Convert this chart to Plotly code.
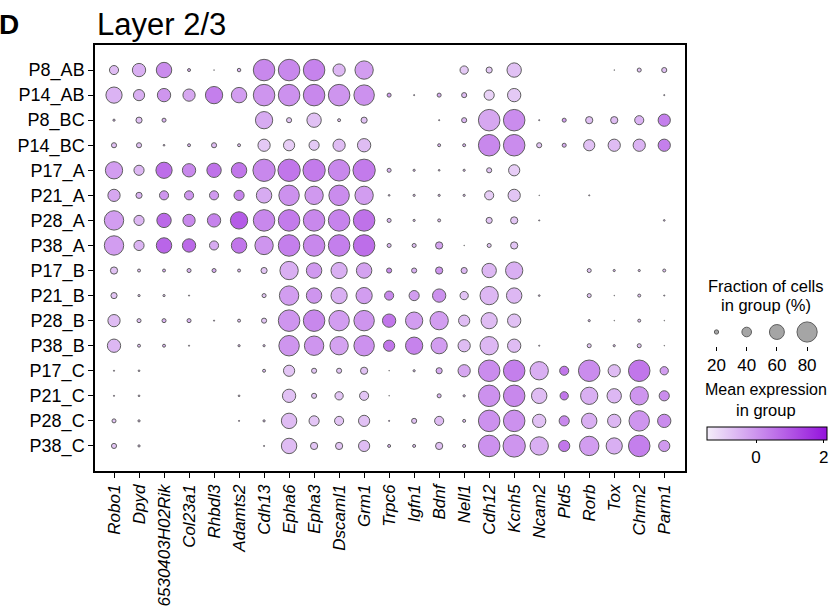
import plotly.graph_objects as go

genes = ["Robo1", "Dpyd", "6530403H02Rik", "Col23a1", "Rhbdl3", "Adamts2", "Cdh13",
         "Epha6", "Epha3", "Dscaml1", "Grm1", "Trpc6", "Igfn1", "Bdnf", "Nell1",
         "Cdh12", "Kcnh5", "Ncam2", "Pld5", "Rorb", "Tox", "Chrm2", "Parm1"]

groups = ["P8_AB", "P14_AB", "P8_BC", "P14_BC", "P17_A", "P21_A", "P28_A", "P38_A",
          "P17_B", "P21_B", "P28_B", "P38_B", "P17_C", "P21_C", "P28_C", "P38_C"]

N = None
# Fraction of cells in group (%), one row per group, columns follow `genes`
fraction_pct = [
    [38, 54, 62, 15, 6, 17, 85, 85, 85, 50, 73, N, N, N, 35, 27, 58, N, N, N, 6, 19, 23],   # P8_AB
    [65, 46, 54, 50, 69, 62, 85, 85, 85, 85, 81, 19, 8, 19, 23, 42, 54, N, N, N, N, N, 8],  # P14_AB
    [12, 27, 19, N, N, N, 69, 23, 58, 15, 27, N, N, 8, 23, 85, 85, 8, 19, 31, 31, 38, 50],  # P8_BC
    [23, 23, 10, 15, 23, 15, 50, 46, 42, 50, 54, N, N, 15, 15, 85, 85, 23, 19, 46, 50, 50, 50],  # P14_BC
    [69, 42, 65, 54, 58, 62, 88, 88, 88, 85, 88, 19, 12, 10, 12, 23, 46, N, N, N, N, N, N],  # P17_A
    [50, 27, 38, 38, 38, 42, 62, 81, 73, 81, 73, 10, 12, 12, 12, 38, 50, 6, N, 8, N, N, N],  # P21_A
    [77, 42, 58, 50, 54, 69, 85, 85, 85, 85, 85, 19, 12, 15, N, 27, 31, 8, N, N, N, N, 10],  # P28_A
    [77, 42, 62, 54, 38, 62, 73, 85, 85, 85, 85, 19, 19, 31, 4, 19, 31, N, N, N, N, N, N],  # P38_A
    [31, 15, 15, 19, 19, 15, 27, 73, 62, 65, 62, 23, 23, 31, 27, 58, 69, N, N, 19, 12, 12, 15],  # P17_B
    [27, 12, 12, 8, N, N, 19, 77, 62, 65, 65, 38, 42, 54, 35, 73, 62, 10, N, 19, 6, 15, 8],  # P21_B
    [50, 19, 19, 19, 8, 15, 23, 85, 85, 81, 81, 54, 69, 73, 46, 65, 54, N, N, 12, 4, 15, 4],  # P28_B
    [54, 15, 15, 8, N, 12, 12, 81, 77, 73, 81, 46, 69, 65, 50, 73, 54, 8, N, 19, 12, 19, 4],  # P38_B
    [8, 10, N, N, N, N, 15, 46, 23, 23, 31, 4, 12, 27, 50, 85, 85, 73, 38, 85, 50, 85, 35],  # P17_C
    [8, 10, N, N, N, 10, N, 54, 23, 35, 38, 4, N, 19, 12, 85, 85, 62, 35, 69, 58, 73, 42],  # P21_C
    [19, 12, N, N, N, 8, 12, 62, 42, 38, 46, 8, 23, 38, 15, 85, 85, 54, 42, 62, 54, 81, 54],  # P28_C
    [23, 12, N, N, N, N, 8, 62, 31, 31, 46, 15, 15, 31, 15, 85, 88, 73, 46, 77, 65, 85, 46],  # P38_C
]

# Mean expression in group (scaled), same layout
mean_expression = [
    [-0.2, 0.1, 0.9, 0.2, -0.8, 0.0, 1.0, 1.0, 1.1, -0.1, 0.5, N, N, N, -0.5, -0.5, -0.3, N, N, N, -0.8, -0.3, -0.3],
    [0.0, 0.1, 0.7, 0.3, 1.2, 0.5, 0.7, 0.8, 1.0, 0.7, 0.8, 0.5, 0.0, 0.2, -0.2, -0.7, -0.5, N, N, N, N, N, 0.0],
    [0.3, -0.3, 0.0, N, N, N, 0.2, -0.4, -0.3, -0.3, -0.3, N, N, 0.0, -0.1, 0.3, 0.9, 0.0, 0.5, -0.3, -0.2, 0.0, 1.2],
    [-0.3, -0.3, 0.5, 0.0, -0.2, -0.2, -0.5, -0.6, -0.5, -0.2, -0.2, N, N, 0.0, 0.0, 1.0, 0.9, -0.4, 0.2, -0.3, -0.2, 0.0, 1.2],
    [0.5, -0.1, 1.6, 1.0, 1.5, 1.4, 1.0, 1.4, 1.3, 1.0, 1.3, 0.0, 0.0, 0.3, 0.0, -0.4, -0.6, N, N, N, N, N, N],
    [0.3, 0.0, 0.7, 0.7, 0.6, 1.1, 0.2, 0.8, 0.6, 0.9, 0.5, 0.0, 0.0, 0.0, 0.0, -0.6, -0.4, -0.5, N, 0.0, N, N, N],
    [0.5, -0.1, 1.7, 1.0, 1.1, 2.0, 1.0, 1.3, 1.0, 1.1, 1.5, -0.1, -0.2, -0.2, N, -0.4, -0.4, 0.0, N, N, N, N, 0.0],
    [0.5, 0.0, 1.8, 1.7, 0.2, 1.4, 0.7, 1.2, 1.0, 1.2, 1.6, -0.1, -0.2, 0.4, -0.8, -0.4, -0.4, N, N, N, N, N, N],
    [-0.3, -0.2, 0.2, 0.0, 0.2, 0.0, -0.4, 0.1, 0.6, 0.1, 0.4, 0.9, 0.1, 0.7, -0.1, -0.1, 0.1, N, N, -0.4, 0.0, 0.0, -0.3],
    [-0.4, -0.2, -0.2, 0.0, N, N, -0.4, 0.5, 0.7, 0.1, 0.5, 1.0, 0.5, 0.8, -0.3, -0.1, -0.1, 0.0, N, -0.4, 0.0, -0.3, 0.0],
    [-0.2, -0.3, 0.0, 0.0, 0.0, -0.3, -0.4, 0.7, 1.0, 0.5, 0.7, 1.4, 0.5, 0.5, -0.2, -0.2, -0.3, N, N, 0.0, -0.8, -0.3, -0.8],
    [-0.1, -0.2, 0.0, 0.0, N, 0.0, 0.0, 0.7, 0.7, 0.4, 0.8, 1.4, 1.1, 0.5, -0.2, -0.1, -0.2, 0.0, N, -0.4, 0.0, -0.3, -0.8],
    [0.0, 0.0, N, N, N, N, -0.2, -0.4, -0.4, -0.4, -0.3, -0.8, 0.0, 0.2, 0.3, 0.9, 1.2, 0.1, 1.4, 0.9, -0.2, 1.4, 0.5],
    [0.0, 0.0, N, N, N, 0.0, N, -0.3, -0.4, -0.4, -0.4, -0.8, N, 0.0, 0.0, 0.8, 1.0, -0.2, 1.4, 0.1, -0.1, 0.7, 0.9],
    [-0.4, -0.2, N, N, N, 0.0, 0.0, -0.2, -0.4, -0.4, -0.3, 0.5, -0.3, -0.2, -0.2, 0.8, 0.8, -0.3, 1.0, 0.1, -0.1, 0.7, 0.9],
    [-0.4, -0.2, N, N, N, N, 0.0, -0.2, -0.4, -0.4, -0.2, 0.0, -0.2, -0.3, -0.2, 0.8, 0.7, 0.1, 1.4, 0.5, 0.1, 1.2, 0.6],
]

legend_fractions = [20, 40, 60, 80]
colorbar_ticks = [0, 2]
expr_min, expr_max = -1.45, 2.1

FONT = "Liberation Sans, Arial, sans-serif"
W, H = 829, 613
L, T, B = 95, 45, 142
PAPER_W = W - L
PAPER_H = H - T - B
PLOT_W = 590


def px_x(px):
    return (px - L) / PAPER_W


def px_y(py):
    return (H - B - py) / PAPER_H


def dot_size(f):
    return max(0.265 * f - 1.0, 0.6)


xs, ys, sizes, colors, texts = [], [], [], [], []
for gi, g in enumerate(groups):
    for ji, gene in enumerate(genes):
        f = fraction_pct[gi][ji]
        if f is None:
            continue
        xs.append(ji)
        ys.append(gi)
        sizes.append(dot_size(f))
        colors.append(mean_expression[gi][ji])
        texts.append(f"{g} / {gene}: {f}% , expr {mean_expression[gi][ji]}")

colorscale = [[0.0, "#f4eefa"], [1.0, "#9412dc"]]

fig = go.Figure()
fig.add_trace(go.Scatter(
    x=xs, y=ys, mode="markers", text=texts, hoverinfo="text",
    marker=dict(
        size=sizes, sizemode="diameter", color=colors, colorscale=colorscale,
        cmin=expr_min, cmax=expr_max,
        line=dict(color="#1a1a1a", width=1),
        colorbar=dict(
            orientation="h", x=px_x(767), xanchor="center", y=px_y(427), yanchor="top",
            lenmode="pixels", len=120, thicknessmode="pixels", thickness=13,
            outlinewidth=1, outlinecolor="black", xpad=0, ypad=0,
            tickvals=colorbar_ticks, ticks="outside", ticklen=3, tickcolor="black",
            tickfont=dict(size=17, color="black", family=FONT),
        ),
    ),
    showlegend=False,
))

fig.add_trace(go.Scatter(
    x=legend_fractions, y=[0] * len(legend_fractions), mode="markers",
    xaxis="x2", yaxis="y2", hoverinfo="x",
    marker=dict(size=[dot_size(f) for f in legend_fractions], color="#808080",
                line=dict(color="#1a1a1a", width=1)),
    showlegend=False,
))

axis_common = dict(showgrid=False, zeroline=False, showline=True, mirror=True,
                   linecolor="black", linewidth=1.5, ticks="outside", ticklen=5,
                   tickcolor="black")

fig.update_layout(
    width=W, height=H,
    margin=dict(l=L, r=0, t=T, b=B, pad=0),
    paper_bgcolor="white", plot_bgcolor="white",
    font=dict(family=FONT, color="black", size=17),
    xaxis=dict(domain=[0, PLOT_W / PAPER_W], range=[-0.76, 22.83],
               tickvals=list(range(len(genes))),
               ticktext=[f"<i>{g}</i>" for g in genes], tickangle=-90, anchor="y",
               tickfont=dict(size=17, color="black", family=FONT),
               **axis_common),
    yaxis=dict(domain=[0, 1], range=[16.0, -1.0],
               tickvals=list(range(len(groups))), ticktext=groups, anchor="x",
               tickfont=dict(size=18, color="black", family=FONT),
               **axis_common),
    xaxis2=dict(domain=[px_x(700), 1.0], anchor="y2", range=[9.07, 94.5],
                tickvals=legend_fractions, showgrid=False, zeroline=False, showline=False,
                ticks="outside", ticklen=4, tickcolor="black",
                tickfont=dict(size=17, color="black", family=FONT)),
    yaxis2=dict(domain=[px_y(346), px_y(318)], anchor="x2", range=[-1, 1], visible=False),
    annotations=[
        dict(text="<b>D</b>", x=px_x(-3), xanchor="left", y=px_y(24), yanchor="middle",
             xref="paper", yref="paper", showarrow=False, font=dict(size=28)),
        dict(text="Layer 2/3", x=px_x(95), xanchor="left", y=px_y(24), yanchor="middle",
             xref="paper", yref="paper", showarrow=False, font=dict(size=31)),
        dict(text="Fraction of cells", x=px_x(766), xanchor="center", y=px_y(286),
             yanchor="middle", xref="paper", yref="paper", showarrow=False, font=dict(size=16.5)),
        dict(text="in group (%)", x=px_x(766), xanchor="center", y=px_y(305),
             yanchor="middle", xref="paper", yref="paper", showarrow=False, font=dict(size=16.5)),
        dict(text="Mean expression", x=px_x(766), xanchor="center", y=px_y(389),
             yanchor="middle", xref="paper", yref="paper", showarrow=False, font=dict(size=16)),
        dict(text="in group", x=px_x(766), xanchor="center", y=px_y(410),
             yanchor="middle", xref="paper", yref="paper", showarrow=False, font=dict(size=16.5)),
    ],
)

fig.write_html(
    "out.html",
    config={"displayModeBar": False},
    post_script="document.body.style.margin='0';document.body.style.padding='0';"
                "document.body.style.overflow='hidden';",
)
